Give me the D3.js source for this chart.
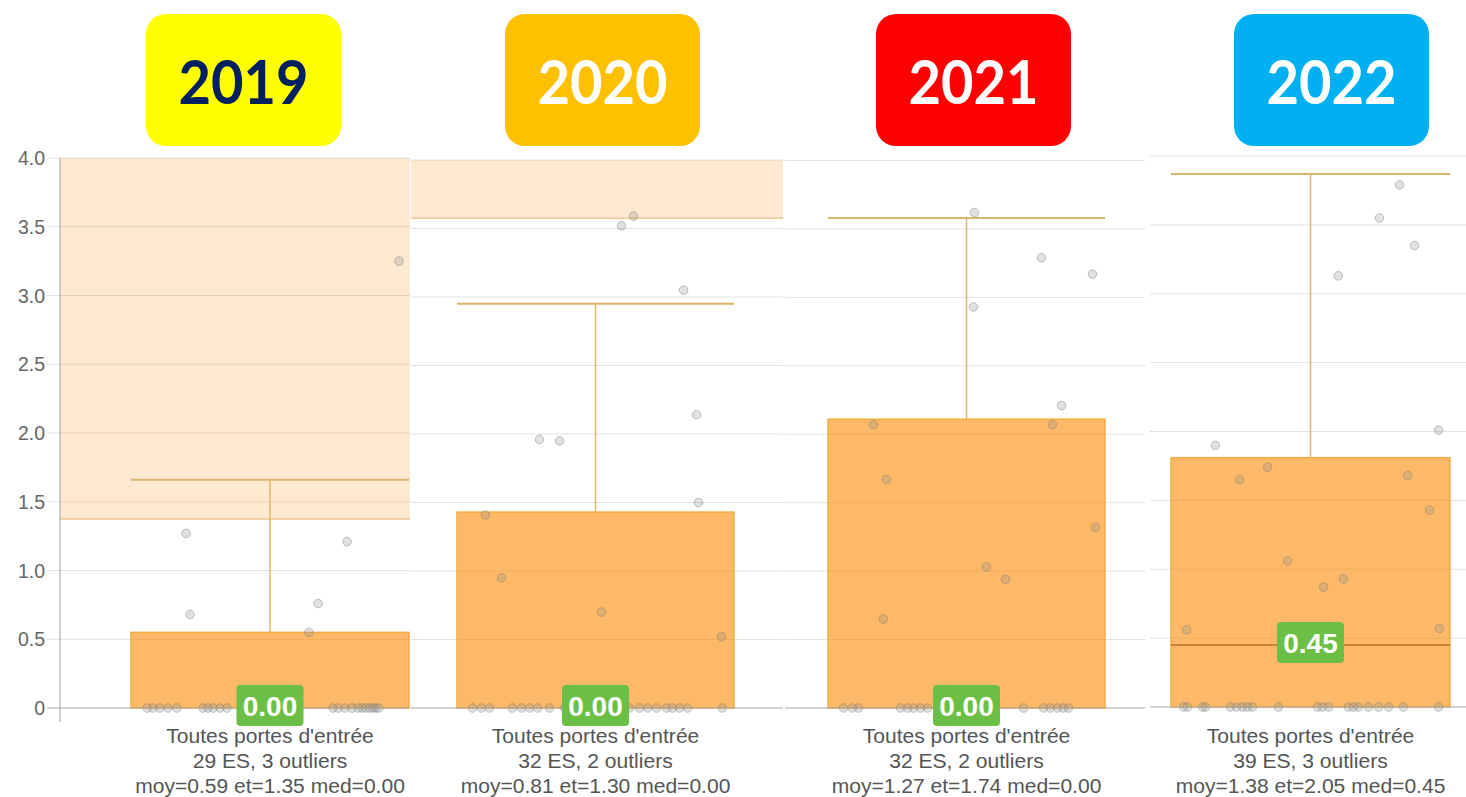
<!DOCTYPE html>
<html>
<head>
<meta charset="utf-8">
<script src="https://cdn.jsdelivr.net/npm/d3@7"></script>
<style>
  body { margin: 0; background: #ffffff; }
  svg { display: block; }
</style>
</head>
<body>
<svg id="chart" width="1466" height="797"></svg>
<script>
// ---- data ---------------------------------------------------------------
const years = ["2019", "2020", "2021", "2022"];
const category = "Toutes portes d'entrée";
const nES = [29, 32, 32, 39];
const nOutliers = [3, 2, 2, 3];
const means = [0.59, 0.81, 1.27, 1.38];
const sds = [1.35, 1.30, 1.74, 2.05];
const q1 = [0, 0, 0, 0];
const medians = [0, 0, 0, 0.45];
const q3 = [0.55, 1.43, 2.11, 1.81];
const whiskerHigh = [1.66, 2.95, 3.58, 3.87];
const yTicks = [0, 0.5, 1, 1.5, 2, 2.5, 3, 3.5, 4];

// one value per establishment (within the 0–4 window) and its horizontal jitter (-0.5..0.5 of the box)
const values2019 = [1.27, 0.68, 0.76, 0.55, 1.21, 3.25,
  0, 0, 0, 0, 0, 0, 0, 0, 0, 0, 0, 0, 0, 0, 0, 0, 0, 0, 0, 0, 0];
const jitter2019 = [-0.302, -0.288, 0.173, 0.140, 0.277, 0.464,
  -0.442, -0.421, -0.396, -0.367, -0.335, -0.241, -0.223, -0.205, -0.180, -0.155,
  0.227, 0.245, 0.270, 0.295, 0.317, 0.331, 0.345, 0.360, 0.371, 0.381, 0.392];

const values2020 = [1.41, 0.95, 0.70, 0.52, 1.96, 1.95, 3.52, 3.59, 3.05, 2.14, 1.50,
  0, 0, 0, 0, 0, 0, 0, 0, 0, 0, 0, 0, 0, 0, 0, 0, 0, 0, 0, 0];
const jitter2020 = [-0.397, -0.339, 0.022, 0.455, -0.202, -0.130, 0.094, 0.137, 0.318, 0.365, 0.372,
  -0.444, -0.412, -0.383, -0.300, -0.267, -0.238, -0.209, -0.166, -0.112, -0.076,
  0.087, 0.123, 0.159, 0.188, 0.220, 0.256, 0.278, 0.303, 0.332, 0.458];

const values2021 = [2.07, 1.67, 0.65, 1.03, 0.94, 3.29, 3.17, 2.21, 2.07, 1.32, 3.62, 2.93,
  0, 0, 0, 0, 0, 0, 0, 0, 0, 0, 0, 0, 0, 0, 0, 0, 0, 0];
const jitter2021 = [-0.336, -0.289, -0.300, 0.072, 0.141, 0.271, 0.455, 0.343, 0.310, 0.466, 0.029, 0.025,
  -0.444, -0.412, -0.390, -0.238, -0.213, -0.191, -0.166, -0.141, -0.076, -0.040,
  0.069, 0.105, 0.206, 0.278, 0.303, 0.329, 0.350, 0.368];

const values2022 = [1.90, 1.65, 1.74, 1.06, 0.87, 0.93, 1.68, 1.43, 0.56, 0.57, 3.13, 3.79, 3.55, 3.35, 2.01,
  0, 0, 0, 0, 0, 0, 0, 0, 0, 0, 0, 0, 0, 0, 0, 0, 0, 0, 0, 0, 0];
const jitter2022 = [-0.341, -0.254, -0.154, -0.082, 0.047, 0.118, 0.348, 0.427, -0.444, 0.462, 0.100, 0.319, 0.247, 0.373, 0.459,
  -0.455, -0.441, -0.387, -0.376, -0.287, -0.265, -0.244, -0.226, -0.208, -0.115,
  0.025, 0.043, 0.065, 0.136, 0.154, 0.172, 0.208, 0.244, 0.280, 0.333, 0.459];

const pointValues = [values2019, values2020, values2021, values2022];
const pointJitter = [jitter2019, jitter2020, jitter2021, jitter2022];

// ---- layout & style -----------------------------------------------------
const panels = [
  { left: 60,   right: 410,  boxL: 131,  boxR: 409,  top: 158,   zero: 708 },
  { left: 411,  right: 783,  boxL: 457,  boxR: 734,  top: 160,   zero: 708 },
  { left: 785,  right: 1145, boxL: 828,  boxR: 1105, top: 160.5, zero: 708 },
  { left: 1150, right: 1466, boxL: 1171, boxR: 1450, top: 156,   zero: 707 }
];
const headers = [
  { x: 146,  fill: "#FFFF00", text: "#002060" },
  { x: 505,  fill: "#FFC000", text: "#FFFFFF" },
  { x: 876,  fill: "#FF0000", text: "#FFFFFF" },
  { x: 1234, fill: "#00B0F0", text: "#FFFFFF" }
];
const FONT = "'Liberation Sans', Arial, sans-serif";

const svg = d3.select("#chart");

// year headers
const hdr = svg.append("g").attr("class", "headers");
years.forEach((yr, i) => {
  const h = headers[i];
  hdr.append("rect")
    .attr("x", h.x).attr("y", 14).attr("width", 195).attr("height", 132)
    .attr("rx", 20).attr("ry", 20).attr("fill", h.fill);
  hdr.append("text")
    .attr("x", h.x + 97.5).attr("y", 104)
    .attr("text-anchor", "middle")
    .attr("font-family", "Lato, 'Open Sans', sans-serif")
    .attr("font-weight", 700)
    .attr("font-size", 61)
    .attr("textLength", 130).attr("lengthAdjust", "spacingAndGlyphs")
    .attr("fill", h.text)
    .text(yr);
});

years.forEach((yr, i) => {
  const p = panels[i];
  const g = svg.append("g").attr("class", "panel-" + yr);
  const y = d3.scaleLinear().domain([0, 4]).range([p.zero, p.top]);
  const x = d3.scaleLinear().domain([-0.5, 0.5]).range([p.boxL, p.boxR]);
  const gridStart = i === 0 ? p.left - 13 : p.left;

  // horizontal grid
  g.append("g").selectAll("line").data(yTicks.filter(t => t > 0)).join("line")
    .attr("x1", gridStart).attr("x2", p.right)
    .attr("y1", d => y(d)).attr("y2", d => y(d))
    .attr("stroke", "#e2e2e2").attr("stroke-width", 1);

  // outlier zone above Q3 + 1.5 IQR
  const fence = q3[i] + 1.5 * (q3[i] - q1[i]);
  if (fence < 4) {
    g.append("rect")
      .attr("x", p.left).attr("width", p.right - p.left)
      .attr("y", y(4)).attr("height", y(fence) - y(4))
      .attr("fill", "rgba(249,170,80,0.26)");
    g.append("line")
      .attr("x1", p.left).attr("x2", p.right)
      .attr("y1", y(fence)).attr("y2", y(fence))
      .attr("stroke", "#f1c690").attr("stroke-width", 1.5);
  }

  // whisker
  g.append("line")
    .attr("x1", x(0)).attr("x2", x(0))
    .attr("y1", y(q3[i])).attr("y2", y(whiskerHigh[i]))
    .attr("stroke", "#e3b468").attr("stroke-width", 1.5);
  g.append("line")
    .attr("x1", x(-0.5)).attr("x2", x(0.5))
    .attr("y1", y(whiskerHigh[i])).attr("y2", y(whiskerHigh[i]))
    .attr("stroke", "#dcb56a").attr("stroke-width", 2);

  // box
  g.append("rect")
    .attr("x", x(-0.5)).attr("width", x(0.5) - x(-0.5))
    .attr("y", y(q3[i])).attr("height", y(q1[i]) - y(q3[i]))
    .attr("fill", "rgba(251,142,10,0.62)")
    .attr("stroke", "#f2ae45").attr("stroke-width", 1.5);

  // median line
  if (medians[i] > 0) {
    g.append("line")
      .attr("x1", x(-0.5)).attr("x2", x(0.5))
      .attr("y1", y(medians[i])).attr("y2", y(medians[i]))
      .attr("stroke", "#c07128").attr("stroke-width", 1.5);
  }

  // establishments
  const pts = pointValues[i].map((v, k) => ({ v, j: pointJitter[i][k] }));
  g.append("g").selectAll("circle").data(pts).join("circle")
    .attr("cx", d => x(d.j)).attr("cy", d => y(d.v)).attr("r", 4.3)
    .attr("fill", "rgba(140,140,140,0.26)")
    .attr("stroke", "rgba(120,120,120,0.42)").attr("stroke-width", 1);

  // baseline
  g.append("line")
    .attr("x1", gridStart).attr("x2", p.right)
    .attr("y1", y(0)).attr("y2", y(0))
    .attr("stroke", "#a8a8a8").attr("stroke-width", 1);

  // median value badge
  const lbl = g.append("g").attr("transform", `translate(${x(0)},${y(medians[i]) - 2.5})`);
  lbl.append("rect")
    .attr("x", -33.5).attr("y", -20.5).attr("width", 67).attr("height", 41)
    .attr("rx", 4).attr("fill", "#6cbf45");
  lbl.append("text")
    .attr("y", 10.5).attr("text-anchor", "middle")
    .attr("font-family", FONT).attr("font-weight", 700).attr("font-size", 28)
    .attr("fill", "#ffffff")
    .text(medians[i].toFixed(2));

  // category and stats under the box
  const lines = [
    category,
    `${nES[i]} ES, ${nOutliers[i]} outliers`,
    `moy=${means[i].toFixed(2)} et=${sds[i].toFixed(2)} med=${medians[i].toFixed(2)}`
  ];
  g.append("g")
    .attr("transform", `translate(${x(0)},0) scale(1.08,1)`)
    .selectAll("text").data(lines).join("text")
    .attr("x", 0).attr("y", (d, k) => 743 + k * 25)
    .attr("text-anchor", "middle")
    .attr("font-family", FONT).attr("font-size", 19.5)
    .attr("fill", "#555555")
    .text(d => d);

  // y axis on the first panel
  if (i === 0) {
    g.append("line")
      .attr("x1", p.left).attr("x2", p.left)
      .attr("y1", y(4)).attr("y2", y(0) + 14)
      .attr("stroke", "#a0a0a0").attr("stroke-width", 1);
    g.append("g").selectAll("text").data(yTicks).join("text")
      .attr("x", 45).attr("y", d => y(d) + 7)
      .attr("text-anchor", "end")
      .attr("font-family", FONT).attr("font-size", 19.5)
      .attr("fill", "#666666")
      .text(d => d === 0 ? "0" : d.toFixed(1));
  }
});
</script>
</body>
</html>
